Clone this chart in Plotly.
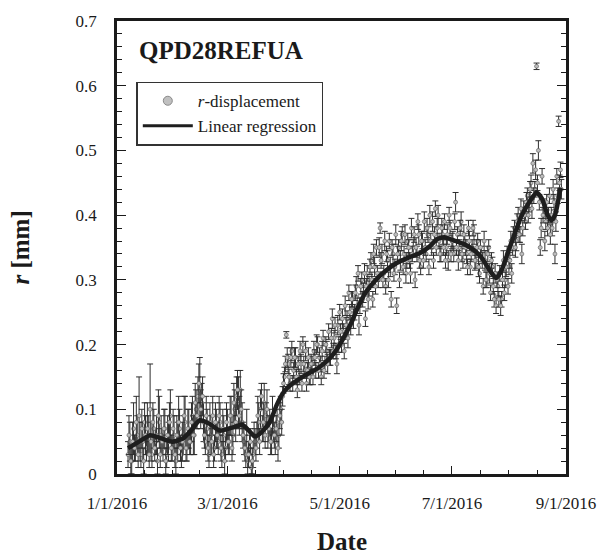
import pandas as pd
import plotly.graph_objects as go

# ---- data ----
start_date = "2016-01-07"
# morning readings
r_values = [
    0.03, 0.05, 0.02, 0.07, 0.04, 0.06, 0.09, 0.03, 0.05, 0.08,
    0.04, 0.06, 0.10, 0.03, 0.07, 0.05, 0.02, 0.08, 0.06, 0.04,
    0.07, 0.03, 0.05, 0.09, 0.04, 0.06, 0.02, 0.05, 0.07, 0.03,
    0.06, 0.08, 0.04, 0.07, 0.05, 0.09, 0.06, 0.10, 0.12, 0.13,
    0.11, 0.08, 0.05, 0.07, 0.03, 0.06, 0.09, 0.04, 0.07, 0.05,
    0.08, 0.03, 0.06, 0.04, 0.07, 0.05, 0.09, 0.06, 0.10, 0.12,
    0.11, 0.13, 0.08, 0.05, 0.03, 0.02, 0.04, 0.01, 0.03, 0.05,
    0.06, 0.08, 0.10, 0.07, 0.11, 0.09, 0.06, 0.08, 0.05, 0.07,
    0.05, 0.08, 0.06, 0.10, 0.12, 0.15, 0.215, 0.17, 0.14, 0.19,
    0.16, 0.18, 0.13, 0.15, 0.17, 0.20, 0.16, 0.14, 0.18, 0.15,
    0.17, 0.19, 0.16, 0.20, 0.18, 0.15, 0.21, 0.17, 0.19, 0.22,
    0.18, 0.24, 0.21, 0.19, 0.23, 0.25, 0.20, 0.22, 0.26, 0.24,
    0.28, 0.23, 0.27, 0.25, 0.29, 0.31, 0.26, 0.30, 0.28, 0.24,
    0.31, 0.29, 0.33, 0.27, 0.32, 0.35, 0.30, 0.38, 0.34, 0.31,
    0.29, 0.33, 0.36, 0.27, 0.34, 0.32, 0.26, 0.35, 0.33, 0.37,
    0.34, 0.31, 0.36, 0.33, 0.38, 0.35, 0.30, 0.34, 0.37, 0.32,
    0.36, 0.39, 0.34, 0.37, 0.40, 0.35, 0.33, 0.41, 0.38, 0.36,
    0.34, 0.37, 0.39, 0.35, 0.33, 0.38, 0.36, 0.34, 0.42, 0.37,
    0.35, 0.39, 0.33, 0.36, 0.34, 0.38, 0.32, 0.35, 0.37, 0.33,
    0.36, 0.31, 0.34, 0.29, 0.33, 0.30, 0.35, 0.28, 0.32, 0.27,
    0.26, 0.29, 0.31, 0.27, 0.33, 0.30, 0.34, 0.32, 0.36, 0.35,
    0.38, 0.36, 0.40, 0.37, 0.34, 0.41, 0.39, 0.43, 0.42, 0.45,
    0.48, 0.44, 0.63, 0.50, 0.35, 0.46, 0.41, 0.39, 0.38, 0.43,
    0.40, 0.44, 0.34, 0.46, 0.545, 0.47,
]
r_errors = [
    0.02, 0.03, 0.02, 0.04, 0.02, 0.03, 0.06, 0.02, 0.03, 0.03,
    0.02, 0.03, 0.07, 0.02, 0.03, 0.02, 0.02, 0.04, 0.03, 0.02,
    0.03, 0.02, 0.03, 0.04, 0.02, 0.03, 0.02, 0.03, 0.03, 0.02,
    0.03, 0.04, 0.02, 0.03, 0.02, 0.03, 0.03, 0.03, 0.03, 0.05,
    0.03, 0.03, 0.02, 0.03, 0.02, 0.03, 0.03, 0.02, 0.03, 0.02,
    0.03, 0.02, 0.03, 0.02, 0.03, 0.02, 0.03, 0.03, 0.03, 0.03,
    0.04, 0.03, 0.03, 0.02, 0.02, 0.02, 0.02, 0.01, 0.02, 0.02,
    0.02, 0.03, 0.03, 0.02, 0.03, 0.02, 0.02, 0.02, 0.02, 0.02,
    0.02, 0.02, 0.02, 0.02, 0.015, 0.015, 0.005, 0.015, 0.012, 0.015,
    0.012, 0.015, 0.012, 0.012, 0.015, 0.012, 0.012, 0.012, 0.015, 0.012,
    0.012, 0.015, 0.012, 0.012, 0.015, 0.012, 0.012, 0.012, 0.015, 0.012,
    0.012, 0.015, 0.012, 0.012, 0.015, 0.012, 0.012, 0.012, 0.015, 0.012,
    0.012, 0.015, 0.012, 0.012, 0.015, 0.012, 0.012, 0.012, 0.015, 0.012,
    0.012, 0.015, 0.012, 0.012, 0.015, 0.012, 0.012, 0.008, 0.015, 0.012,
    0.012, 0.015, 0.012, 0.012, 0.015, 0.012, 0.012, 0.012, 0.015, 0.012,
    0.012, 0.015, 0.012, 0.012, 0.015, 0.012, 0.012, 0.012, 0.015, 0.012,
    0.012, 0.015, 0.012, 0.012, 0.015, 0.012, 0.012, 0.012, 0.015, 0.012,
    0.012, 0.015, 0.012, 0.012, 0.015, 0.012, 0.012, 0.012, 0.015, 0.012,
    0.012, 0.015, 0.012, 0.012, 0.015, 0.012, 0.012, 0.012, 0.015, 0.012,
    0.012, 0.015, 0.012, 0.012, 0.015, 0.012, 0.012, 0.012, 0.015, 0.012,
    0.012, 0.015, 0.012, 0.012, 0.015, 0.012, 0.012, 0.012, 0.015, 0.012,
    0.012, 0.015, 0.012, 0.012, 0.015, 0.012, 0.012, 0.012, 0.015, 0.012,
    0.015, 0.012, 0.005, 0.015, 0.012, 0.012, 0.015, 0.012, 0.012, 0.012,
    0.012, 0.015, 0.015, 0.012, 0.008, 0.012,
]
# afternoon readings
r_values_pm = [
    0.06, 0.02, 0.05, 0.04, 0.08, 0.03, 0.05, 0.07, 0.02, 0.06,
    0.07, 0.03, 0.05, 0.08, 0.04, 0.06, 0.09, 0.03, 0.05, 0.07,
    0.02, 0.06, 0.08, 0.04, 0.07, 0.03, 0.06, 0.08, 0.04, 0.05,
    0.09, 0.04, 0.07, 0.05, 0.08, 0.06, 0.11, 0.09, 0.14, 0.10,
    0.12, 0.06, 0.09, 0.04, 0.08, 0.05, 0.03, 0.08, 0.06, 0.09,
    0.04, 0.07, 0.02, 0.08, 0.05, 0.09, 0.04, 0.11, 0.08, 0.13,
    0.09, 0.10, 0.06, 0.04, 0.07, 0.03, 0.05, 0.02, 0.06, 0.04,
    0.09, 0.05, 0.12, 0.08, 0.06, 0.10, 0.07, 0.05, 0.09, 0.06,
    0.07, 0.04, 0.09, 0.08, 0.14, 0.17, 0.18, 0.15, 0.18, 0.14,
    0.18, 0.15, 0.17, 0.19, 0.14, 0.17, 0.19, 0.16, 0.15, 0.17,
    0.15, 0.18, 0.20, 0.16, 0.17, 0.19, 0.16, 0.20, 0.17, 0.18,
    0.21, 0.19, 0.23, 0.17, 0.20, 0.22, 0.24, 0.19, 0.23, 0.21,
    0.25, 0.27, 0.24, 0.28, 0.26, 0.23, 0.29, 0.27, 0.31, 0.29,
    0.27, 0.32, 0.30, 0.34, 0.29, 0.31, 0.35, 0.33, 0.30, 0.36,
    0.34, 0.30, 0.32, 0.35, 0.31, 0.37, 0.34, 0.30, 0.36, 0.32,
    0.37, 0.33, 0.35, 0.31, 0.34, 0.37, 0.35, 0.39, 0.33, 0.36,
    0.33, 0.35, 0.38, 0.32, 0.36, 0.39, 0.37, 0.35, 0.40, 0.34,
    0.38, 0.35, 0.33, 0.37, 0.40, 0.34, 0.36, 0.39, 0.35, 0.33,
    0.38, 0.34, 0.37, 0.35, 0.32, 0.36, 0.34, 0.38, 0.33, 0.35,
    0.32, 0.35, 0.33, 0.36, 0.30, 0.34, 0.31, 0.33, 0.29, 0.31,
    0.30, 0.27, 0.26, 0.30, 0.28, 0.32, 0.29, 0.33, 0.31, 0.37,
    0.35, 0.39, 0.37, 0.41, 0.38, 0.40, 0.42, 0.40, 0.44, 0.41,
    0.43, 0.47, 0.45, 0.42, 0.38, 0.40, 0.36, 0.42, 0.40, 0.37,
    0.38, 0.42, 0.39, 0.43, 0.45, 0.44,
]
r_errors_pm = [
    0.03, 0.02, 0.03, 0.02, 0.04, 0.02, 0.03, 0.03, 0.02, 0.03,
    0.04, 0.02, 0.03, 0.03, 0.02, 0.03, 0.04, 0.02, 0.02, 0.03,
    0.02, 0.03, 0.03, 0.02, 0.03, 0.02, 0.03, 0.04, 0.02, 0.03,
    0.03, 0.02, 0.03, 0.02, 0.03, 0.03, 0.03, 0.02, 0.03, 0.03,
    0.03, 0.02, 0.03, 0.02, 0.03, 0.02, 0.02, 0.03, 0.02, 0.03,
    0.02, 0.03, 0.02, 0.03, 0.02, 0.03, 0.02, 0.03, 0.03, 0.03,
    0.03, 0.03, 0.02, 0.02, 0.03, 0.02, 0.02, 0.02, 0.02, 0.02,
    0.03, 0.02, 0.02, 0.03, 0.02, 0.03, 0.02, 0.02, 0.03, 0.02,
    0.02, 0.02, 0.02, 0.02, 0.015, 0.012, 0.015, 0.012, 0.015, 0.012,
    0.015, 0.012, 0.012, 0.015, 0.012, 0.012, 0.015, 0.012, 0.012, 0.015,
    0.012, 0.012, 0.015, 0.012, 0.012, 0.015, 0.012, 0.012, 0.015, 0.012,
    0.015, 0.012, 0.012, 0.015, 0.012, 0.012, 0.015, 0.012, 0.012, 0.015,
    0.012, 0.012, 0.015, 0.012, 0.012, 0.015, 0.012, 0.012, 0.015, 0.012,
    0.015, 0.012, 0.012, 0.015, 0.012, 0.012, 0.015, 0.012, 0.012, 0.015,
    0.012, 0.012, 0.015, 0.012, 0.012, 0.015, 0.012, 0.012, 0.015, 0.012,
    0.015, 0.012, 0.012, 0.015, 0.012, 0.012, 0.015, 0.012, 0.012, 0.015,
    0.012, 0.012, 0.015, 0.012, 0.012, 0.015, 0.012, 0.012, 0.015, 0.012,
    0.015, 0.012, 0.012, 0.015, 0.012, 0.012, 0.015, 0.012, 0.012, 0.015,
    0.012, 0.012, 0.015, 0.012, 0.012, 0.015, 0.012, 0.012, 0.015, 0.012,
    0.015, 0.012, 0.012, 0.015, 0.012, 0.012, 0.015, 0.012, 0.012, 0.015,
    0.012, 0.012, 0.015, 0.012, 0.012, 0.015, 0.012, 0.012, 0.015, 0.012,
    0.015, 0.012, 0.012, 0.015, 0.012, 0.012, 0.015, 0.012, 0.012, 0.015,
    0.012, 0.015, 0.012, 0.012, 0.015, 0.012, 0.015, 0.012, 0.012, 0.015,
    0.012, 0.012, 0.015, 0.012, 0.012, 0.015,
]
fit_dates = [
    "2016-01-07", "2016-01-13", "2016-01-19", "2016-01-25", "2016-01-31",
    "2016-02-06", "2016-02-11", "2016-02-15", "2016-02-20", "2016-02-26",
    "2016-03-04", "2016-03-09", "2016-03-13", "2016-03-16", "2016-03-20",
    "2016-03-24", "2016-03-28", "2016-04-01", "2016-04-05", "2016-04-12",
    "2016-04-20", "2016-04-26", "2016-04-30", "2016-05-04", "2016-05-08",
    "2016-05-11", "2016-05-15", "2016-05-20", "2016-05-26", "2016-06-01",
    "2016-06-07", "2016-06-14", "2016-06-19", "2016-06-23", "2016-06-27",
    "2016-07-01", "2016-07-07", "2016-07-12", "2016-07-17", "2016-07-21",
    "2016-07-25", "2016-07-28", "2016-08-01", "2016-08-05", "2016-08-08",
    "2016-08-12", "2016-08-16", "2016-08-19", "2016-08-22", "2016-08-24",
    "2016-08-26", "2016-08-29",
]
fit_values = [
    0.040, 0.050, 0.060, 0.055, 0.050,
    0.055, 0.070, 0.083, 0.078, 0.067,
    0.072, 0.076, 0.066, 0.058, 0.066,
    0.080, 0.108, 0.128, 0.139, 0.152,
    0.165, 0.180, 0.195, 0.215, 0.238,
    0.258, 0.280, 0.298, 0.314, 0.326,
    0.334, 0.342, 0.352, 0.363, 0.366,
    0.362, 0.356, 0.348, 0.335, 0.317,
    0.303, 0.315, 0.347, 0.378, 0.400,
    0.420, 0.435, 0.425, 0.400, 0.392,
    0.400, 0.442,
]
x_tick_dates = ["2016-01-01", "2016-03-01", "2016-05-01", "2016-07-01", "2016-09-01"]
x_tick_text = ["1/1/2016", "3/1/2016", "5/1/2016", "7/1/2016", "9/1/2016"]
y_tick_vals = [0, 0.1, 0.2, 0.3, 0.4, 0.5, 0.6, 0.7]
y_tick_text = ["0", "0.1", "0.2", "0.3", "0.4", "0.5", "0.6", "0.7"]

obs_dates = pd.date_range(start_date, periods=len(r_values), freq="D")
obs_dates_pm = pd.date_range(start_date + " 12:00", periods=len(r_values_pm), freq="D")

# minor x ticks: quarters between major labels
majors = pd.to_datetime(x_tick_dates)
minor_x = []
for a, b in zip(majors[:-1], majors[1:]):
    for k in (1, 2, 3):
        minor_x.append(a + (b - a) * k / 4)

SERIF = "Liberation Serif, Times New Roman, serif"
ERR = dict(type="data", color="#2e2e2e", thickness=1, width=3)
MARK = dict(size=4, color="#bdbdbd", line=dict(color="#555555", width=0.6))

fig = go.Figure()
fig.add_trace(go.Scatter(
    x=obs_dates, y=r_values, mode="markers", showlegend=False,
    marker=MARK, error_y=dict(array=r_errors, **ERR),
))
fig.add_trace(go.Scatter(
    x=obs_dates_pm, y=r_values_pm, mode="markers", showlegend=False,
    marker=MARK, error_y=dict(array=r_errors_pm, **ERR),
))
fig.add_trace(go.Scatter(
    x=pd.to_datetime(fit_dates), y=fit_values, mode="lines", showlegend=False,
    line=dict(color="#1e1e1e", width=4.5, shape="spline", smoothing=0.6),
))
# legend entries
fig.add_trace(go.Scatter(
    x=[None], y=[None], mode="markers", name="<i>r</i>-displacement",
    marker=dict(size=9, color="#c0c0c0", line=dict(color="#8a8a8a", width=1)),
))
fig.add_trace(go.Scatter(
    x=[None], y=[None], mode="lines", name="Linear regression",
    line=dict(color="#1e1e1e", width=3),
))

fig.update_layout(
    width=608, height=554,
    margin=dict(l=117, r=39, t=16, b=80),
    paper_bgcolor="white", plot_bgcolor="white",
    font=dict(family=SERIF, size=17, color="#1a1a1a"),
    xaxis=dict(
        type="date", range=["2016-01-01", "2016-09-01"],
        tickmode="array", tickvals=x_tick_dates, ticktext=x_tick_text,
        ticks="inside", ticklen=8, tickwidth=1.2, tickcolor="#1a1a1a",
        showline=True, linecolor="#1a1a1a", linewidth=2.5, mirror=True,
        showgrid=False, zeroline=False, ticklabelstandoff=12,
        minor=dict(tickmode="array", tickvals=minor_x, ticks="inside",
                   ticklen=4, tickwidth=1.2, tickcolor="#1a1a1a", showgrid=False),
    ),
    yaxis=dict(
        range=[0, 0.7], tickmode="array", tickvals=y_tick_vals, ticktext=y_tick_text,
        ticks="inside", ticklen=9, tickwidth=1.2, tickcolor="#1a1a1a",
        showline=True, linecolor="#1a1a1a", linewidth=2.5, mirror="ticks",
        showgrid=False, zeroline=False, ticklabelstandoff=14,
        minor=dict(dtick=0.02, ticks="inside", ticklen=5, tickwidth=1.2,
                   tickcolor="#1a1a1a", showgrid=False),
    ),
    legend=dict(
        x=0.043, y=0.866, xanchor="left", yanchor="top",
        bordercolor="#333333", borderwidth=1.5, bgcolor="white",
        font=dict(family=SERIF, size=17), itemwidth=50, tracegroupgap=0,
    ),
    annotations=[
        dict(text="<b>QPD28REFUA</b>", xref="paper", yref="paper",
             x=0.045, y=0.934, xanchor="left", yanchor="middle", showarrow=False,
             font=dict(family=SERIF, size=25, color="#1a1a1a")),
        dict(text="<b>Date</b>", xref="paper", yref="paper",
             x=0.5, y=-0.148, xanchor="center", yanchor="middle", showarrow=False,
             font=dict(family=SERIF, size=25, color="#1a1a1a")),
        dict(text="<b><i>r</i> [mm]</b>", xref="paper", yref="paper",
             x=-0.216, y=0.5, xanchor="center", yanchor="middle", showarrow=False,
             textangle=-90, font=dict(family=SERIF, size=25, color="#1a1a1a")),
    ],
)

fig.write_html("out.html")
